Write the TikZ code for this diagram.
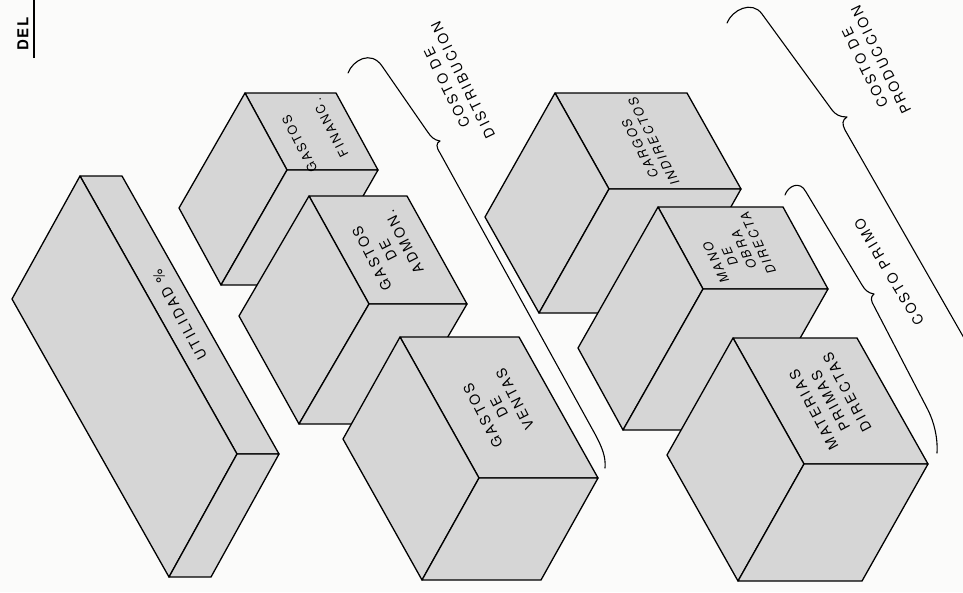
\documentclass[tikz,border=0pt]{standalone}
\usepackage{fontspec}
\newfontfamily\lblfont[LetterSpace=18]{TeX Gyre Heros}
\newfontfamily\delfont[LetterSpace=12]{TeX Gyre Heros}
\usetikzlibrary{calc}
\definecolor{facegray}{RGB}{214,214,214}
\definecolor{paper}{RGB}{251,251,250}
\tikzset{
  face/.style={fill=facegray, draw=black, line width=1.3pt, line join=round},
  bracket/.style={draw=black, line width=1.1pt, line cap=round, line join=round},
  lbl/.style={font=\lblfont\fontsize{14}{18}\selectfont, align=center, inner sep=0pt, text=black},
  lblsm/.style={font=\lblfont\itshape\fontsize{12.5}{15.5}\selectfont, align=center, inner sep=0pt, text=black},
}
% #1 name, #2 x, #3 y, #4 h, #5 bx, #6 by, #7 cx, #8 cy
\newcommand\isobox[8]{%
  \coordinate (#1-p) at (#2,#3);
  \coordinate (#1-h) at ($(#1-p)+(#4,0)$);
  \coordinate (#1-b) at ($(#1-p)+(#5,#6)$);
  \coordinate (#1-hb) at ($(#1-h)+(#5,#6)$);
  \coordinate (#1-c) at ($(#1-p)+(#7,#8)$);
  \coordinate (#1-bc) at ($(#1-b)+(#7,#8)$);
  \coordinate (#1-hbc) at ($(#1-hb)+(#7,#8)$);
  \filldraw[face] (#1-p) -- (#1-h) -- (#1-hb) -- (#1-b) -- cycle;
  \filldraw[face] (#1-p) -- (#1-b) -- (#1-bc) -- (#1-c) -- cycle;
  \filldraw[face] (#1-b) -- (#1-hb) -- (#1-hbc) -- (#1-bc) -- cycle;
}
\begin{document}
\begin{tikzpicture}[x=1pt,y=-1pt]
\useasboundingbox (0,0) rectangle (963,592);
\fill[paper] (0,0) rectangle (963,592);
\clip (0,0) rectangle (963,592);

% header fragment
\node[rotate=90, inner sep=0pt, font=\delfont\bfseries\fontsize{15}{15}\selectfont] (del) at (23,34) {DEL};
\draw[line width=1.4pt] (34,58) -- (34,0);

% UTILIDAD slab
\isobox{ut}{80}{176}{42}{157}{278}{-68}{123}
\node[lbl, rotate=118] (ut-t) at ($(ut-p)!0.5!(ut-hb)$) {UTILIDAD \%};

% distribution column
\isobox{gf}{245}{93}{91}{42}{77}{-66}{115}
\node[lbl, font=\lblfont\fontsize{12.5}{15.5}\selectfont, rotate=117] (gf-t) at (315,136) {GASTOS\\[19pt]FINANC.};
\isobox{ga}{309}{196}{98}{60}{108}{-70}{120}
\node[lbl, rotate=117] (ga-t) at ($(ga-p)!0.5!(ga-hb)$) {GASTOS\\DE\\ADMON.};
\isobox{gv}{400}{337}{119}{79}{141}{-57}{102}
\node[lbl, rotate=117] (gv-t) at ($(gv-p)!0.5!(gv-hb)$) {GASTOS\\DE\\VENTAS};

% production column
\isobox{ci}{555}{93}{132}{54}{96}{-70}{124}
\node[lblsm, rotate=117] (ci-t) at ($(ci-p)!0.5!(ci-hb)+(-1,4)$) {CARGOS\\INDIRECTOS};
\isobox{mo}{658}{207}{125}{45}{82}{-80}{141}
\node[lblsm, rotate=115] (mo-t) at ($(mo-p)!0.5!(mo-hb)+(-6,5)$) {MANO\\DE\\OBRA\\DIRECTA};
\isobox{mp}{733}{338}{124}{71}{126}{-66}{117}
\node[lbl, font=\lblfont\fontsize{14}{19}\selectfont, rotate=118] (mp-t) at ($(mp-p)!0.5!(mp-hb)$) {MATERIAS\\PRIMAS\\DIRECTAS};

% braces
\draw[bracket] (348,73) .. controls (353,60) and (371,50) .. (382,66)
  -- (427,131) .. controls (431,137) and (434,140) .. (440,141)
  .. controls (436,143) and (436,147) .. (440,153)
  -- (595,434) .. controls (602,447) and (606,457) .. (605,468);
\node[lbl, rotate=116] (cd-t) at (455,84) {COSTO DE\\DISTRIBUCION};

\draw[bracket] (727,23) .. controls (732,10) and (752,0) .. (762,14)
  -- (832,110) .. controls (836,115) and (840,117) .. (847,117)
  .. controls (842,120) and (842,124) .. (845,130)
  -- (968,345);
\node[lbl, rotate=116] (cp-t) at (873,64) {COSTO DE\\PRODUCCION};

\draw[bracket] (785,195) .. controls (788,186) and (800,180) .. (806,192)
  -- (862,285) .. controls (865,290) and (868,293) .. (874,294)
  .. controls (870,297) and (871,301) .. (874,306)
  -- (928,410) .. controls (934,422) and (938,438) .. (937,453);
\node[lbl, rotate=121] (pr-t) at (889,272) {COSTO PRIMO};
\end{tikzpicture}
\end{document}
